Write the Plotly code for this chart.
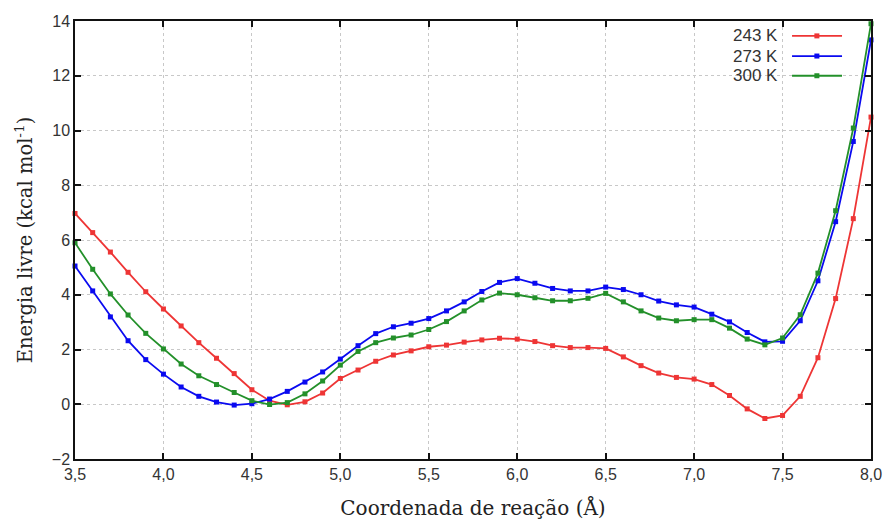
import plotly.graph_objects as go

x_coord = [round(3.5 + 0.1 * i, 1) for i in range(46)]

energy_243 = [6.97, 6.27, 5.56, 4.82, 4.11, 3.48, 2.86, 2.25, 1.68, 1.12,
              0.53, 0.13, -0.02, 0.09, 0.41, 0.94, 1.25, 1.57, 1.80, 1.95,
              2.10, 2.16, 2.27, 2.35, 2.41, 2.38, 2.29, 2.14, 2.07, 2.07,
              2.04, 1.73, 1.41, 1.14, 0.98, 0.92, 0.72, 0.32, -0.17, -0.52,
              -0.41, 0.29, 1.70, 3.86, 6.78, 10.49]
energy_273 = [5.05, 4.14, 3.19, 2.32, 1.63, 1.10, 0.63, 0.29, 0.08, -0.03,
              0.02, 0.19, 0.47, 0.81, 1.18, 1.65, 2.14, 2.58, 2.83, 2.96,
              3.13, 3.41, 3.74, 4.12, 4.45, 4.59, 4.42, 4.23, 4.14, 4.14,
              4.28, 4.19, 4.00, 3.77, 3.63, 3.55, 3.29, 3.01, 2.62, 2.28,
              2.30, 3.05, 4.51, 6.67, 9.60, 13.31]
energy_300 = [5.90, 4.93, 4.03, 3.26, 2.59, 2.02, 1.47, 1.04, 0.72, 0.43,
              0.13, -0.01, 0.06, 0.38, 0.85, 1.43, 1.93, 2.25, 2.42, 2.53,
              2.73, 3.02, 3.41, 3.81, 4.06, 4.00, 3.89, 3.78, 3.78, 3.87,
              4.05, 3.74, 3.41, 3.15, 3.05, 3.09, 3.09, 2.78, 2.38, 2.17,
              2.42, 3.27, 4.79, 7.07, 10.09, 13.90]

series_names = ["243 K", "273 K", "300 K"]
series_colors = ["#ee3535", "#0a0af0", "#23902a"]
series_values = [energy_243, energy_273, energy_300]

x_tickvals = [3.5, 4.0, 4.5, 5.0, 5.5, 6.0, 6.5, 7.0, 7.5, 8.0]
x_ticktext = ["3,5", "4,0", "4,5", "5,0", "5,5", "6,0", "6,5", "7,0", "7,5", "8,0"]

fig = go.Figure()
for name, color, vals in zip(series_names, series_colors, series_values):
    fig.add_trace(go.Scatter(
        x=x_coord, y=vals, mode="lines+markers", name=name,
        line=dict(color=color, width=1.8),
        marker=dict(symbol="square", size=5, color=color),
        showlegend=False, cliponaxis=False))

# manual legend (text on the left, sample on the right) in an overlay axis
leg_rows = [0.966, 0.920, 0.875]
for name, color, yy in zip(series_names, series_colors, leg_rows):
    fig.add_trace(go.Scatter(
        x=[0.9008, 0.9636], y=[yy, yy], mode="lines", xaxis="x2", yaxis="y2",
        line=dict(color=color, width=1.8), showlegend=False, hoverinfo="skip"))
    fig.add_trace(go.Scatter(
        x=[0.932], y=[yy], mode="markers", xaxis="x2", yaxis="y2",
        marker=dict(symbol="square", size=5, color=color),
        showlegend=False, hoverinfo="skip"))
    fig.add_annotation(x=0.8857, y=yy, xref="paper", yref="paper",
                       text=name, showarrow=False, xanchor="right", yanchor="middle",
                       font=dict(family="Liberation Sans", size=17, color="#333333"))

axis_common = dict(showline=True, linecolor="#111111", linewidth=1.5, mirror="allticks",
                   ticks="inside", ticklen=6, tickcolor="#111111", tickwidth=1.5,
                   showgrid=True, gridcolor="#c8c8c8", griddash="dot", gridwidth=1,
                   zeroline=False, automargin=False)

fig.update_layout(
    width=885, height=522,
    margin=dict(l=75, r=14, t=21, b=63),
    paper_bgcolor="white", plot_bgcolor="white",
    showlegend=False,
    xaxis=dict(range=[3.5, 8.0], tickvals=x_tickvals, ticktext=x_ticktext,
               tickfont=dict(family="Liberation Sans", size=16, color="#333333"),
               title=dict(text="Coordenada de reação (Å)", standoff=19,
                          font=dict(family="DejaVu Serif", size=20, color="#222222")),
               **axis_common),
    yaxis=dict(range=[-2, 14], dtick=2,
               tickfont=dict(family="Liberation Sans", size=16, color="#333333"),
               title=dict(text="Energia livre (kcal mol<sup>-1</sup>)", standoff=14,
                          font=dict(family="DejaVu Serif", size=19.5, color="#222222")),
               **axis_common),
    xaxis2=dict(range=[0, 1], overlaying="x", visible=False, fixedrange=True),
    yaxis2=dict(range=[0, 1], overlaying="y", visible=False, fixedrange=True),
)

fig.write_html("out.html")
